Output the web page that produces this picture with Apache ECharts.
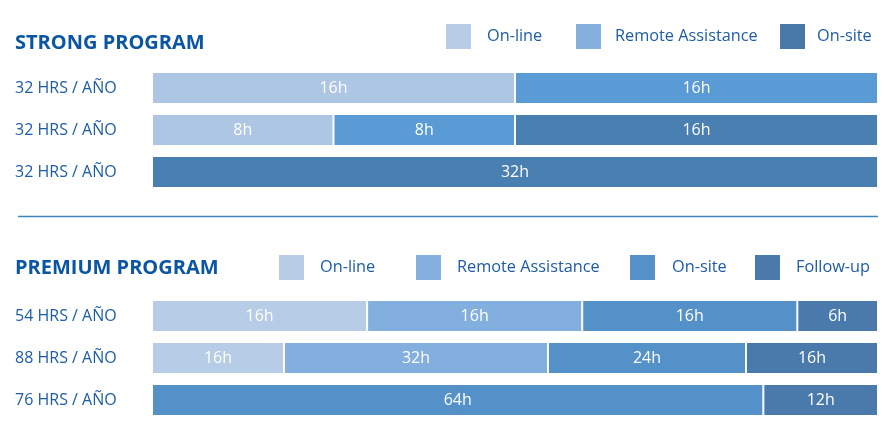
<!DOCTYPE html>
<html><head><meta charset="utf-8">
<script src="https://cdn.jsdelivr.net/npm/echarts@6/dist/echarts.min.js"></script>
<style>html,body{margin:0;padding:0;background:#fff}#c{width:892px;height:438px}</style>
</head><body><div id="c"></div>
<script>
const strongCategories = ['32 HRS / AÑO', '32 HRS / AÑO', '32 HRS / AÑO'];
const strongOnline = [16, 8, 0];
const strongRemote = [16, 8, 0];
const strongOnsite = [0, 16, 32];

const premiumCategories = ['54 HRS / AÑO', '88 HRS / AÑO', '76 HRS / AÑO'];
const premiumOnline = [16, 16, 0];
const premiumRemote = [16, 32, 0];
const premiumOnsite = [16, 24, 64];
const premiumFollowup = [6, 16, 12];

const FONT = '"Open Sans", sans-serif';
const TXT = '#1d5ca8';

function totals(arrs) {
  return arrs[0].map((_, i) => arrs.reduce((s, a) => s + a[i], 0));
}
const strongTot = totals([strongOnline, strongRemote, strongOnsite]);
const premiumTot = totals([premiumOnline, premiumRemote, premiumOnsite, premiumFollowup]);

function mkSeries(name, hours, tot, color, idx) {
  return {
    type: 'bar', name: name, stack: 's' + idx, xAxisIndex: idx, yAxisIndex: idx,
    barWidth: 32,
    data: hours.map((h, i) => h / tot[i] * 100),
    itemStyle: { color: color, borderColor: '#ffffff', borderWidth: 1 },
    label: {
      show: true, position: 'inside', color: '#ffffff', fontFamily: FONT, fontSize: 16,
      formatter: p => hours[p.dataIndex] ? hours[p.dataIndex] + 'h' : ''
    },
    emphasis: { disabled: true }, silent: true, animation: false
  };
}

function legendItem(name, left, top, color, gap) {
  return {
    left: left, top: top, padding: 0, itemWidth: 25, itemHeight: 25, icon: 'rect',
    selectedMode: false,
    data: [{ name: name, itemStyle: { color: color, borderWidth: 0 } }],
    textStyle: { color: TXT, fontFamily: FONT, fontSize: 16.3, padding: [0, 0, 0, gap - 5] }
  };
}

function yAx(cats, idx) {
  return {
    type: 'category', gridIndex: idx, data: cats, inverse: true,
    axisLine: { show: false }, axisTick: { show: false },
    axisLabel: { align: 'left', margin: 137, color: TXT, fontFamily: FONT, fontSize: 16 }
  };
}
function xAx(idx) {
  return { type: 'value', gridIndex: idx, min: 0, max: 100, show: false, splitLine: { show: false } };
}

const chart = echarts.init(document.getElementById('c'), null, { renderer: 'canvas' });
chart.setOption({
  animation: false,
  backgroundColor: '#ffffff',
  title: [
    { text: 'STRONG PROGRAM', left: 15, top: 33, padding: 0,
      textStyle: { color: '#0b56a4', fontFamily: FONT, fontWeight: 'bold', fontSize: 20 } },
    { text: 'PREMIUM PROGRAM', left: 15, top: 258, padding: 0,
      textStyle: { color: '#0b56a4', fontFamily: FONT, fontWeight: 'bold', fontSize: 20 } }
  ],
  legend: [
    legendItem('On-line', 446, 24, '#b8cce6', 16),
    legendItem('Remote Assistance', 576, 24, '#85b0de', 14),
    legendItem('On-site', 780, 24, '#4878a8', 12),
    legendItem('On-line', 279, 255, '#b8cce6', 16),
    legendItem('Remote Assistance', 416, 255, '#84afdf', 16),
    legendItem('On-site', 630, 255, '#5591c8', 17),
    legendItem('Follow-up', 755, 255, '#4a7aaa', 16)
  ],
  grid: [
    { left: 152, right: 14, top: 67, height: 126 },
    { left: 152, right: 14, top: 295, height: 126 }
  ],
  xAxis: [xAx(0), xAx(1)],
  yAxis: [yAx(strongCategories, 0), yAx(premiumCategories, 1)],
  series: [
    mkSeries('On-line', strongOnline, strongTot, '#adc6e4', 0),
    mkSeries('Remote Assistance', strongRemote, strongTot, '#5b9bd5', 0),
    mkSeries('On-site', strongOnsite, strongTot, '#4a7fb1', 0),
    mkSeries('On-line', premiumOnline, premiumTot, '#b7cce7', 1),
    mkSeries('Remote Assistance', premiumRemote, premiumTot, '#83afdf', 1),
    mkSeries('On-site', premiumOnsite, premiumTot, '#5491c8', 1),
    mkSeries('Follow-up', premiumFollowup, premiumTot, '#4a7aab', 1)
  ],
  graphic: [
    { type: 'line', shape: { x1: 18, y1: 216.5, x2: 878, y2: 216.5 },
      style: { stroke: '#3e84bd', lineWidth: 1.5 }, silent: true }
  ]
});
</script></body></html>
